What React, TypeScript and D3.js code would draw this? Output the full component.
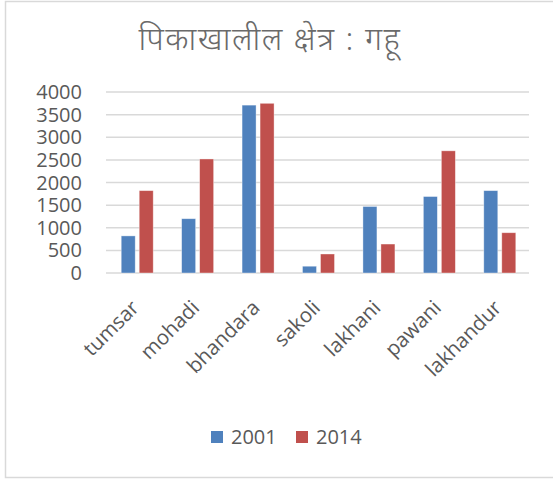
import React from "react";
import * as d3 from "d3";

const categories = ["tumsar", "mohadi", "bhandara", "sakoli", "lakhani", "pawani", "lakhandur"];
const series2001 = [820, 1200, 3710, 150, 1470, 1690, 1820];
const series2014 = [1820, 2520, 3750, 420, 640, 2700, 890];
const seriesNames = ["2001", "2014"];
const seriesColors = ["#4f81bd", "#c0504d"];
const yTicks = [0, 500, 1000, 1500, 2000, 2500, 3000, 3500, 4000];
const title = "पिकाखालील क्षेत्र : गहू";

const W = 553;
const H = 479;
const FONT = "'Open Sans', 'Noto Sans', sans-serif";

export default function App() {
  const x = d3.scaleBand<string>().domain(categories).range([106, 529]);
  const y = d3.scaleLinear().domain([0, 4000]).range([273, 92]);
  const barW = 14;
  const gap = 4;
  const data = [series2001, series2014];

  return (
    <svg width={W} height={H} style={{ position: "absolute", left: 0, top: 0, background: "#fff" }}>
      <rect x={5.5} y={1.5} width={600} height={476} fill="#fff" stroke="#d9d9d9" strokeWidth={1.5} />
      <text x={270} y={50} textAnchor="middle" fontSize={32} fontWeight={300} letterSpacing={1.5} fill="#6a6a6a"
        fontFamily="'Noto Sans Devanagari', 'Noto Sans', sans-serif">{title}</text>
      {yTicks.map((t) => (
        <g key={t}>
          <line x1={106} x2={529} y1={y(t)} y2={y(t)} stroke="#d9d9d9" strokeWidth={1.5} />
          <text x={82} y={y(t)} dy="0.35em" textAnchor="end" fontSize={20} fill="#595959" fontFamily={FONT}>{t}</text>
        </g>
      ))}
      {categories.map((c, i) => {
        const cx = (x(c) as number) + x.bandwidth() / 2;
        return (
          <g key={c}>
            {data.map((s, k) => {
              const bx = k === 0 ? cx - gap / 2 - barW : cx + gap / 2;
              return (
                <rect key={k} x={bx + 1} y={y(s[i])} width={barW} height={y(0) - y(s[i])}
                  fill={seriesColors[k]} stroke="#ffffff" strokeOpacity={0.5} strokeWidth={0.75} />
              );
            })}
            <text transform={`translate(${cx + 4},${309}) rotate(-45)`} textAnchor="end" fontSize={20.5}
              fill="#595959" fontFamily={FONT}>{c}</text>
          </g>
        );
      })}
      {seriesNames.map((n, k) => {
        const lx = k === 0 ? 211 : 296;
        return (
          <g key={n}>
            <rect x={lx} y={431} width={12} height={12} fill={seriesColors[k]} />
            <text x={lx + 20} y={437} dy="0.35em" fontSize={20} fill="#595959" fontFamily={FONT}>{n}</text>
          </g>
        );
      })}
    </svg>
  );
}
